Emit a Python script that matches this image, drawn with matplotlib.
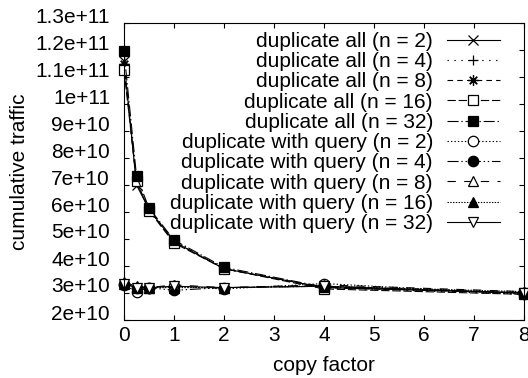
import numpy as np
import matplotlib
matplotlib.use('agg')
import matplotlib.pyplot as plt
import matplotlib.transforms as mtransforms

plt.rcParams['font.family'] = 'Liberation Sans'
plt.rcParams['font.size'] = 15
plt.rcParams['lines.scale_dashes'] = False
plt.rcParams['axes.linewidth'] = 0.8

copy_factor = [0, 0.25, 0.5, 1, 2, 4, 8]

# cumulative traffic, in units of 1e10
dup_all_2 = [11.6, 7.0, 6.1, 4.9, 3.9, 3.2, 3.0]
dup_all_4 = [11.5, 7.1, 6.1, 4.95, 3.9, 3.2, 2.95]
dup_all_8 = [11.5, 7.1, 6.1, 4.9, 3.9, 3.2, 3.0]
dup_all_16 = [11.25, 7.15, 6.05, 4.85, 3.9, 3.15, 2.95]
dup_all_32 = [11.95, 7.33, 6.15, 4.96, 3.95, 3.22, 3.0]

dup_query_2 = [3.3, 3.05, 3.2, 3.25, 3.15, 3.35, 2.95]
dup_query_4 = [3.35, 3.2, 3.2, 3.1, 3.2, 3.25, 3.0]
dup_query_8 = [3.4, 3.25, 3.2, 3.3, 3.2, 3.3, 3.05]
dup_query_16 = [3.35, 3.2, 3.2, 3.2, 3.2, 3.25, 3.05]
dup_query_32 = [3.35, 3.2, 3.2, 3.25, 3.2, 3.25, 3.0]

labels = ['duplicate all (n = 2)', 'duplicate all (n = 4)',
          'duplicate all (n = 8)', 'duplicate all (n = 16)',
          'duplicate all (n = 32)', 'duplicate with query (n = 2)',
          'duplicate with query (n = 4)', 'duplicate with query (n = 8)',
          'duplicate with query (n = 16)', 'duplicate with query (n = 32)']
series = [dup_all_2, dup_all_4, dup_all_8, dup_all_16, dup_all_32,
          dup_query_2, dup_query_4, dup_query_8, dup_query_16, dup_query_32]

# (linestyle, marker, facecolor) per series, gnuplot-like
styles = [
    ('-', 'x', 'none'),
    ((0, (1, 4)), '+', 'none'),
    ((0, (4, 3)), (8, 2, 0), 'none'),
    ((0, (6, 2)), 's', 'white'),
    ((0, (8, 2, 1, 2)), 's', 'black'),
    ((0, (1, 1.5)), 'o', 'white'),
    ((0, (8, 2, 1, 2, 1, 2)), 'o', 'black'),
    ((0, (6, 6)), '^', 'white'),
    ((0, (1, 1)), '^', 'black'),
    ('-', 'v', 'white'),
]

fig = plt.figure(figsize=(5.28, 3.78), dpi=100)
ax = fig.add_axes([124/528, 58/378, 400/528, 297/378])

for vals, lab, (ls, mk, fc) in zip(series, labels, styles):
    ax.plot(copy_factor, np.array(vals) * 1e10, linestyle=ls, color='black',
            lw=0.8, marker=mk, markersize=7.5, markerfacecolor=fc,
            markeredgecolor='black', markeredgewidth=0.9, label=lab,
            clip_on=False)

ax.set_xlim(0, 8)
ax.set_ylim(2e10, 1.3e11)
ax.set_xticks(range(0, 9))
ax.set_yticks(np.arange(2, 14) * 1e10)
ax.set_yticklabels(['%g' % v for v in np.arange(2, 14) * 1e10])
ax.tick_params(direction='in', top=True, right=True, length=3.5, width=0.8)
ax.tick_params(axis='y', pad=10)
ax.tick_params(axis='x', pad=4)

# gnuplot puts the y labels a bit above their ticks
shift = mtransforms.ScaledTranslation(0, 8/100, fig.dpi_scale_trans)
for lbl in ax.get_yticklabels():
    lbl.set_transform(lbl.get_transform() + shift)

ax.set_xlabel('copy factor', labelpad=8)
ax.set_ylabel('cumulative traffic')
ax.yaxis.set_label_coords(-0.2375, 0.5)

leg = ax.legend(loc='upper right', bbox_to_anchor=(0.94, 0.97),
                frameon=False, markerfirst=False, numpoints=1,
                handlelength=2.55, handletextpad=0.67, labelspacing=0.06,
                borderpad=0, borderaxespad=0)

fig.savefig('out.png', dpi=100)
